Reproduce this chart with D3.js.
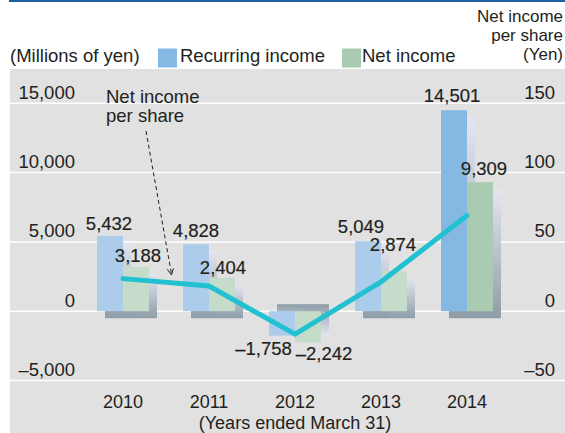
<!DOCTYPE html>
<html>
<head>
<meta charset="utf-8">
<script src="https://cdn.jsdelivr.net/npm/d3@7"></script>
<style>
  html, body { margin: 0; padding: 0; background: #ffffff; }
  svg { display: block; }
  text { font-family: "Liberation Sans", Arial, Helvetica, sans-serif; fill: #231f20; }
</style>
</head>
<body>
<svg id="chart" width="565" height="433"></svg>
<script>
// Fiscal years (ended March 31)
const years = ["2010", "2011", "2012", "2013", "2014"];
// Millions of yen
const recurringIncome = [5432, 4828, -1758, 5049, 14501];
const netIncome = [3188, 2404, -2242, 2874, 9309];
// Yen
const netIncomePerShare = [23.5, 18.2, -16.6, 21.2, 69.0];
// Axis ticks
const leftTicks = [-5000, 0, 5000, 10000, 15000];
const rightTicks = [-50, 0, 50, 100, 150];

// Nudges for value labels so they clear the line and each other
const recurringLabelNudge = [[-1, -6], [0, -7.5], [-18.5, 19.5], [-7, -8.5], [-2, -8.5]];
const netLabelNudge = [[2, -5.5], [1, -4.2], [16, 17.8], [-1, -20.7], [4, -7]];

const svg = d3.select("#chart");
const W = 565, H = 433;

const fmt = v => (v < 0 ? "\u2013" : "") + d3.format(",")(Math.abs(v));

// Scales
const y = d3.scaleLinear().domain([-5000, 15000]).range([380.5, 103.3]);
const y2 = d3.scaleLinear().domain([-50, 150]).range([380.5, 103.3]);
const x = d3.scaleBand().domain(years).range([80, 510]).padding(0);
const cx = d => x(d) + x.bandwidth() / 2;
const barW = 26;

// Gradients for the extruded bar shadows
const defs = svg.append("defs");
const gPos = defs.append("linearGradient").attr("id", "shadePos")
  .attr("x1", 0).attr("y1", 0).attr("x2", 0).attr("y2", 1);
gPos.append("stop").attr("offset", "0%").attr("stop-color", "#e4e5f0");
gPos.append("stop").attr("offset", "100%").attr("stop-color", "#8e9da7");
const gNeg = defs.append("linearGradient").attr("id", "shadeNeg")
  .attr("x1", 0).attr("y1", 0).attr("x2", 0).attr("y2", 1);
gNeg.append("stop").attr("offset", "0%").attr("stop-color", "#8e9da7");
gNeg.append("stop").attr("offset", "100%").attr("stop-color", "#e4e5f0");

// Top rule and plot background
svg.append("rect").attr("x", 9).attr("y", 0).attr("width", W - 9).attr("height", 2)
  .attr("fill", "#1d5fa6");
svg.append("rect").attr("x", 10).attr("y", 69).attr("width", W - 10).attr("height", H - 69)
  .attr("fill", "#e1e1e1");

// Gridlines
svg.append("g").selectAll("line").data(leftTicks).join("line")
  .attr("x1", 10).attr("x2", W)
  .attr("y1", d => y(d)).attr("y2", d => y(d))
  .attr("stroke", "#ffffff").attr("stroke-width", 1.5);

// Left axis labels
svg.append("g").selectAll("text").data(leftTicks).join("text")
  .attr("x", 75).attr("y", d => y(d) - 4.5)
  .attr("text-anchor", "end").attr("font-size", 18.5)
  .text(fmt);

// Right axis labels
svg.append("g").selectAll("text").data(rightTicks).join("text")
  .attr("x", 555).attr("y", d => y2(d) - 4.5)
  .attr("text-anchor", "end").attr("font-size", 18.5)
  .text(fmt);

// Bar rows
const rows = years.map((yr, i) => ({
  year: yr, i, rec: recurringIncome[i], net: netIncome[i], latest: i === years.length - 1
}));
const bars = [];
rows.forEach(r => {
  bars.push({ year: r.year, i: r.i, v: r.rec, kind: "rec", x0: cx(r.year) - barW, latest: r.latest });
  bars.push({ year: r.year, i: r.i, v: r.net, kind: "net", x0: cx(r.year), latest: r.latest });
});

// Shadows
svg.append("g").selectAll("rect").data(bars).join("rect")
  .attr("x", d => d.x0 + 8)
  .attr("y", d => d.v >= 0 ? y(d.v) + 7 : y(0) - 7)
  .attr("width", barW)
  .attr("height", d => Math.abs(y(d.v) - y(0)))
  .attr("fill", d => d.v >= 0 ? "url(#shadePos)" : "url(#shadeNeg)");

// Bars
const colors = {
  rec: ["#abcdeb", "#85b9e4"],
  net: ["#c4dcc9", "#a9cbb1"]
};
svg.append("g").selectAll("rect").data(bars).join("rect")
  .attr("x", d => d.x0)
  .attr("y", d => Math.min(y(d.v), y(0)))
  .attr("width", barW)
  .attr("height", d => Math.abs(y(d.v) - y(0)))
  .attr("fill", d => colors[d.kind][d.latest ? 1 : 0]);

// Net income per share line
const line = d3.line().x((d, i) => cx(years[i])).y(d => y2(d));
svg.append("path").datum(netIncomePerShare)
  .attr("d", line)
  .attr("fill", "none").attr("stroke", "#22c1d1")
  .attr("stroke-width", 5).attr("stroke-linecap", "round").attr("stroke-linejoin", "miter");

// Value labels
svg.append("g").selectAll("text").data(bars).join("text")
  .attr("x", d => d.x0 + barW / 2 + (d.kind === "rec" ? recurringLabelNudge : netLabelNudge)[d.i][0])
  .attr("y", d => y(d.v) + (d.kind === "rec" ? recurringLabelNudge : netLabelNudge)[d.i][1])
  .attr("text-anchor", "middle").attr("font-size", 18.5)
  .attr("stroke", "#231f20").attr("stroke-width", 0.2)
  .text(d => fmt(d.v));

// Annotation for the line
const ann = svg.append("text").attr("font-size", 18.5);
ann.append("tspan").attr("x", 106).attr("y", 103).text("Net income");
ann.append("tspan").attr("x", 106).attr("y", 122).text("per share");
svg.append("line")
  .attr("x1", 146).attr("y1", 131).attr("x2", 171.5).attr("y2", 274)
  .attr("stroke", "#231f20").attr("stroke-width", 1).attr("stroke-dasharray", "4,3");
const ang = Math.atan2(274 - 131, 171.5 - 146);
const tip = [171.5, 275];
const head = [-0.45, 0.45].map(a => [tip[0] - 7 * Math.cos(ang + a), tip[1] - 7 * Math.sin(ang + a)]);
svg.append("path")
  .attr("d", `M${head[0][0]},${head[0][1]}L${tip[0]},${tip[1]}L${head[1][0]},${head[1][1]}`)
  .attr("fill", "none").attr("stroke", "#231f20").attr("stroke-width", 1);

// Category labels and axis title
svg.append("g").selectAll("text").data(years).join("text")
  .attr("x", d => cx(d)).attr("y", 408)
  .attr("text-anchor", "middle").attr("font-size", 18)
  .text(d => d);
svg.append("text").attr("x", cx("2012")).attr("y", 429)
  .attr("text-anchor", "middle").attr("font-size", 18)
  .text("(Years ended March 31)");

// Legend and unit captions
svg.append("text").attr("x", 10).attr("y", 62).attr("font-size", 18.5).text("(Millions of yen)");
svg.append("rect").attr("x", 158).attr("y", 48.5).attr("width", 19).attr("height", 19).attr("fill", "#85b9e4");
svg.append("text").attr("x", 180).attr("y", 62).attr("font-size", 18.5).text("Recurring income");
svg.append("rect").attr("x", 342).attr("y", 48.5).attr("width", 19).attr("height", 19).attr("fill", "#a9cbb1");
svg.append("text").attr("x", 362).attr("y", 62).attr("font-size", 18.5).text("Net income");

const rt = svg.append("text").attr("text-anchor", "end").attr("font-size", 17);
rt.append("tspan").attr("x", 563).attr("y", 22).text("Net income");
rt.append("tspan").attr("x", 563).attr("y", 41).text("per share");
rt.append("tspan").attr("x", 563).attr("y", 60).text("(Yen)");
</script>
</body>
</html>
